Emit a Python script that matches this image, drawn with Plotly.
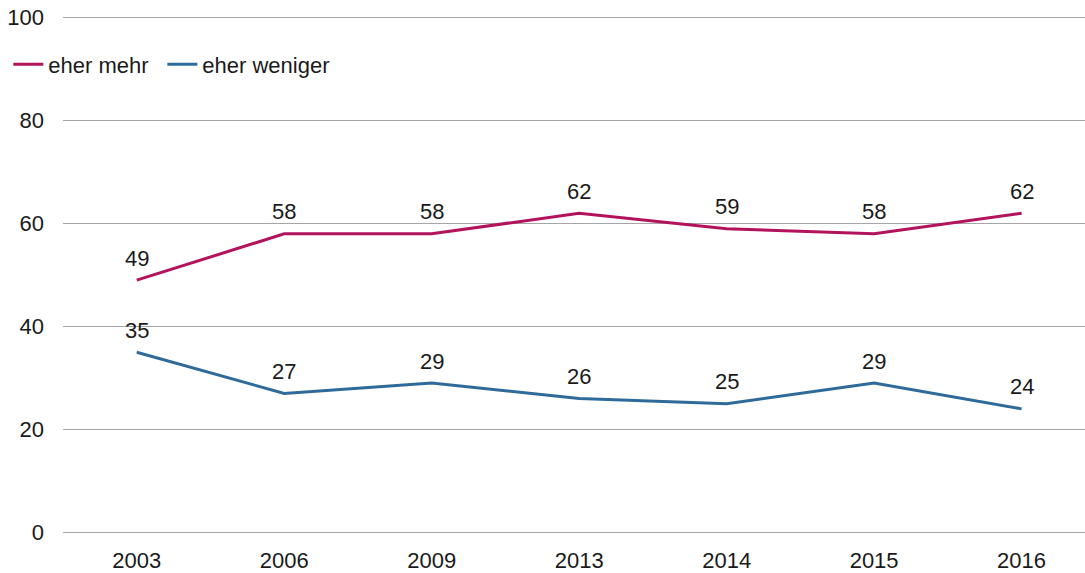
import plotly.graph_objects as go

years = ["2003", "2006", "2009", "2013", "2014", "2015", "2016"]
eher_mehr = [49, 58, 58, 62, 59, 58, 62]
eher_weniger = [35, 27, 29, 26, 25, 29, 24]

series = [
    ("eher mehr", eher_mehr, "#B3135D", "legend"),
    ("eher weniger", eher_weniger, "#2F6B9A", "legend2"),
]

FONT = "Liberation Sans, Arial, sans-serif"
FS = 22
TXT = "#1a1a1a"

fig = go.Figure()
annotations = []
for name, vals, color, leg in series:
    fig.add_trace(go.Scatter(
        x=years, y=vals, mode="lines", name=name, legend=leg,
        line=dict(color=color, width=3),
    ))
    # value labels above each point (x given as category index)
    for i, v in enumerate(vals):
        annotations.append(dict(
            x=i, y=v, xref="x", yref="y", text=str(v), showarrow=False,
            yshift=22, font=dict(family=FONT, size=FS, color=TXT),
        ))

legend_style = dict(
    orientation="h", y=0.905, xanchor="left", yanchor="middle",
    font=dict(family=FONT, size=FS, color=TXT),
    bgcolor="rgba(0,0,0,0)", itemwidth=30,
)

fig.update_layout(
    width=1085, height=573,
    margin=dict(l=63, r=0, t=15, b=35),
    plot_bgcolor="white", paper_bgcolor="white",
    font=dict(family=FONT, size=FS, color=TXT),
    annotations=annotations,
    showlegend=True,
    legend=dict(x=-0.0535, **legend_style),
    legend2=dict(x=0.0972, **legend_style),
    xaxis=dict(
        type="category", range=[-0.5, 6.43], showgrid=False,
        showline=False, zeroline=False, ticks="", ticklabelstandoff=10,
    ),
    yaxis=dict(
        range=[-0.5, 100.5], tickvals=[0, 20, 40, 60, 80, 100],
        showgrid=True, gridcolor="#a6a6a6", gridwidth=1,
        zeroline=False, showline=False, ticks="", ticklabelstandoff=18,
    ),
)

fig.write_html("out.html")
